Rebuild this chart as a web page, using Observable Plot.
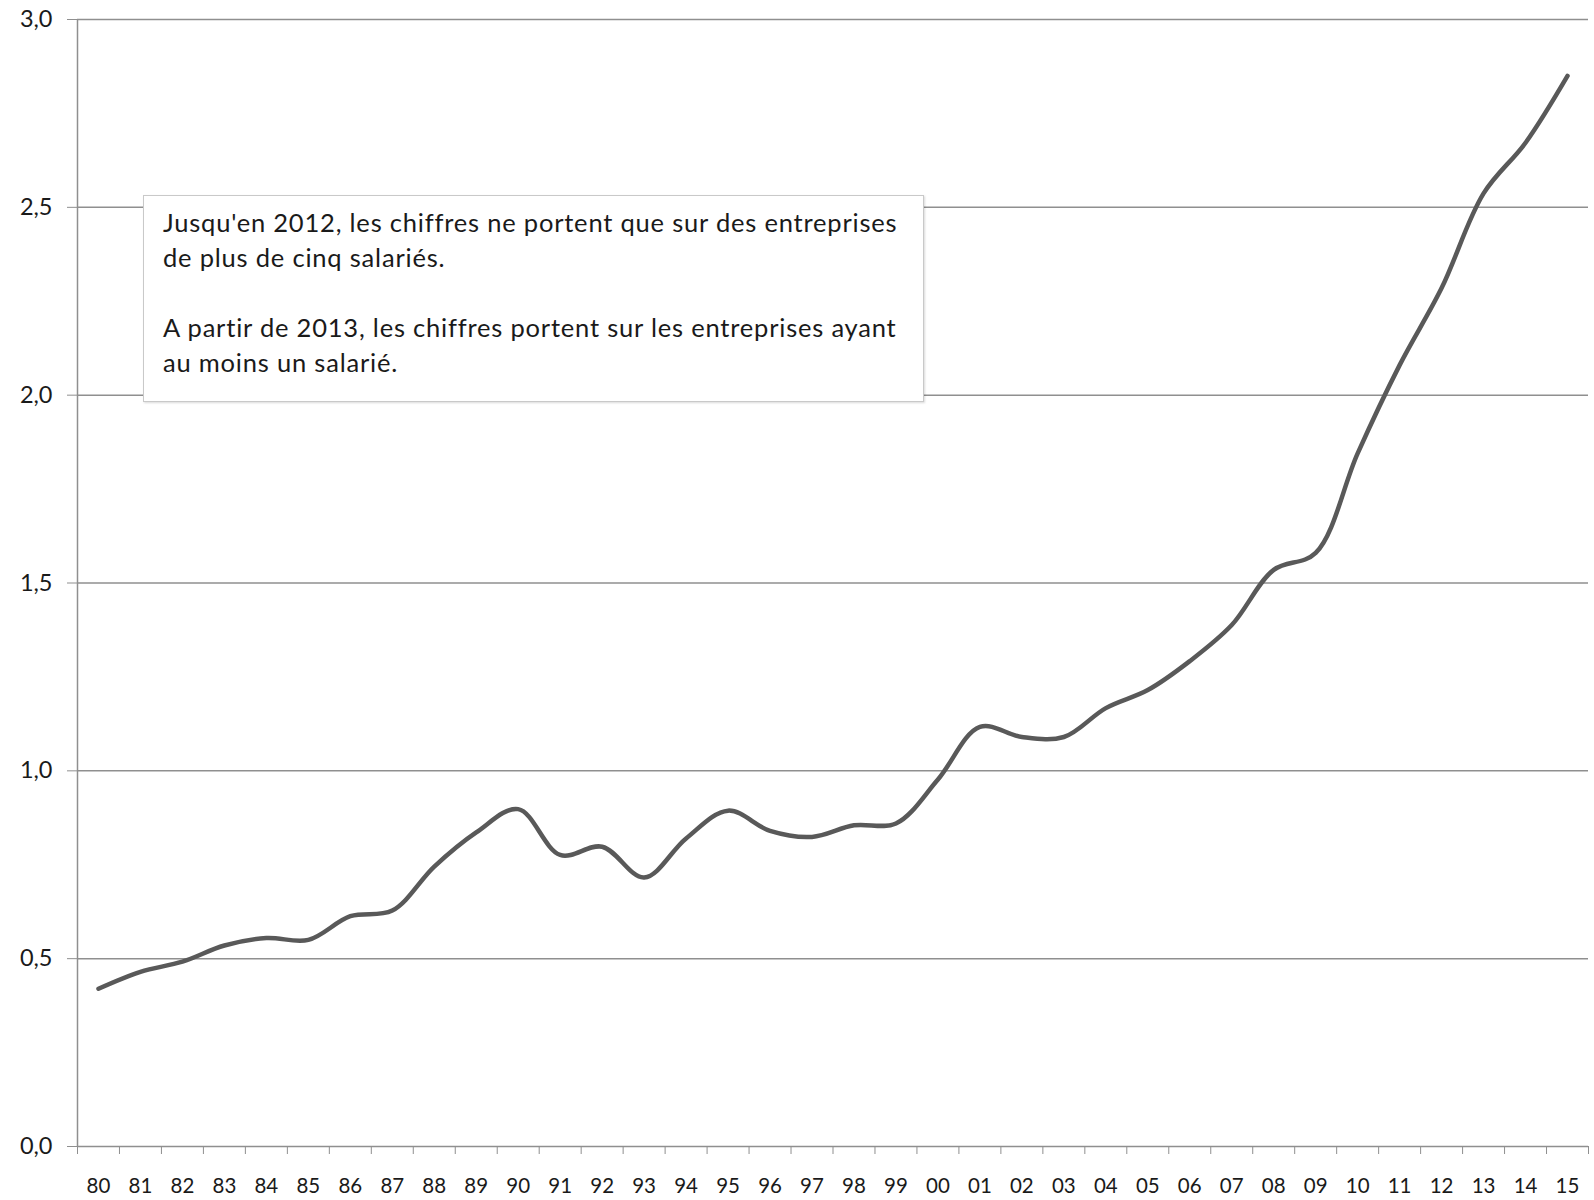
<!DOCTYPE html>
<html>
<head>
<meta charset="utf-8">
<script src="https://cdn.jsdelivr.net/npm/d3@7"></script>
<script src="https://cdn.jsdelivr.net/npm/@observablehq/plot@0.6"></script>
<style>
  html, body { margin: 0; padding: 0; background: #fff; }
  #wrap { position: relative; width: 1594px; height: 1200px; }
  #note {
    position: absolute; left: 143px; top: 195px; width: 781px; height: 207px;
    box-sizing: border-box; background: #fff;
    border: 1px solid #c9c9c9; box-shadow: 1px 1px 2px rgba(0,0,0,0.15);
    padding: 9px 0 0 19px;
    font-family: Lato, sans-serif; font-size: 25.5px; letter-spacing: 0.8px; line-height: 35px; color: #1a1a1a;
    white-space: nowrap;
  }
</style>
</head>
<body>
<div id="wrap"></div>
<script>
const years = ["80","81","82","83","84","85","86","87","88","89","90","91","92","93","94","95","96","97","98","99","00","01","02","03","04","05","06","07","08","09","10","11","12","13","14","15"];
const values = [0.42,0.465,0.492,0.535,0.555,0.55,0.613,0.628,0.745,0.836,0.898,0.776,0.798,0.716,0.82,0.894,0.84,0.824,0.855,0.86,0.977,1.117,1.09,1.09,1.167,1.215,1.292,1.388,1.535,1.58,1.845,2.08,2.285,2.537,2.672,2.85];
const yTicks = [0, 0.5, 1.0, 1.5, 2.0, 2.5, 3.0];
const noteLines = [
  "Jusqu'en 2012, les chiffres ne portent que sur des entreprises",
  "de plus de cinq salariés.",
  "",
  "A partir de 2013, les chiffres portent sur les entreprises ayant",
  "au moins un salarié."
];

const data = years.map((label, i) => ({i, label, v: values[i]}));
const xDomain = [-0.5, years.length - 0.5];
const boundaries = d3.range(years.length + 1).map(k => k - 0.5);
const centers = d3.range(years.length);
const fmt = d => d.toFixed(1).replace(".", ",");

const chart = Plot.plot({
  width: 1594,
  height: 1200,
  marginLeft: 77,
  marginRight: 6,
  marginTop: 19,
  marginBottom: 54,
  style: {fontFamily: "Lato, sans-serif", fontSize: "20px", color: "#1a1a1a", background: "#fff"},
  x: {domain: xDomain, axis: null},
  y: {domain: [0, 3], axis: null},
  marks: [
    Plot.gridY(yTicks, {stroke: "#8f8f8f", strokeOpacity: 1, strokeWidth: 1.5}),
    Plot.axisY(yTicks, {tickSize: 10, tickPadding: 15, tickFormat: fmt, fontSize: 23.5, stroke: "#8f8f8f", label: null}),
    Plot.axisX(boundaries, {tickSize: 8, tickFormat: () => "", stroke: "#8f8f8f", label: null}),
    Plot.axisX(centers, {tickSize: 0, tickPadding: 32, tickFormat: i => years[i], fontSize: 20.5, label: null}),
    Plot.ruleX([xDomain[0]], {stroke: "#8f8f8f", strokeWidth: 1.5}),
    Plot.line(data, {x: "i", y: "v", curve: "catmull-rom", stroke: "#595959", strokeWidth: 4.5})
  ]
});

const wrap = document.getElementById("wrap");
wrap.appendChild(chart);
const note = document.createElement("div");
note.id = "note";
note.innerHTML = noteLines.map(s => s === "" ? "&nbsp;" : s).join("<br>");
wrap.appendChild(note);
</script>
</body>
</html>
